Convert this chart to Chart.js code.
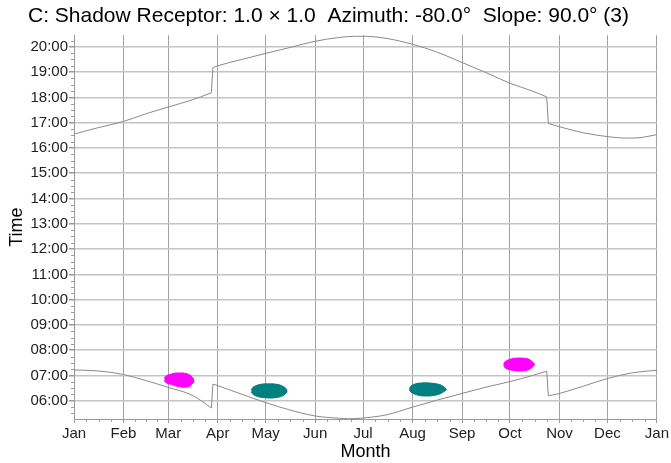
<!DOCTYPE html>
<html>
<head>
<meta charset="utf-8">
<title>Shadow Receptor C</title>
<script src="https://cdn.jsdelivr.net/npm/chart.js@4.4.1/dist/chart.umd.min.js"></script>
<style>
  body { margin: 0; background: #fff; }
  #wrap { width: 671px; height: 463px; }
</style>
</head>
<body>
<div id="wrap"><canvas id="shadowChart" width="671" height="463"></canvas></div>
<script>
// month axis (days from 1 Jan)
const monthLabels = ['Jan', 'Feb', 'Mar', 'Apr', 'May', 'Jun', 'Jul', 'Aug', 'Sep', 'Oct', 'Nov', 'Dec', 'Jan'];
const monthStarts = [0, 31, 59, 90, 120, 151, 181, 212, 243, 273, 304, 334, 365];
const hourTicks = [6, 7, 8, 9, 10, 11, 12, 13, 14, 15, 16, 17, 18, 19, 20];

// sunset (upper curve), hours
const sunsetDays  = [0, 15, 31, 45, 59, 74, 86, 87, 90, 105, 120, 135, 151, 166, 177, 181, 196, 212, 227, 243, 258, 273, 287, 296, 297, 304, 319, 334, 346, 355, 365];
const sunsetTimes = [16.55, 16.8, 17.05, 17.35, 17.62, 17.9, 18.18, 19.18, 19.25, 19.5, 19.74, 19.97, 20.22, 20.37, 20.42, 20.42, 20.33, 20.1, 19.8, 19.38, 18.98, 18.56, 18.25, 18.02, 16.97, 16.84, 16.6, 16.45, 16.39, 16.41, 16.53];

// sunrise (lower curve), hours
const sunriseDays  = [0, 10, 20, 31, 45, 59, 74, 86, 87, 90, 105, 120, 135, 151, 166, 172, 181, 196, 212, 227, 243, 258, 273, 287, 296, 297, 304, 319, 334, 349, 365];
const sunriseTimes = [7.22, 7.2, 7.15, 7.04, 6.8, 6.53, 6.22, 5.72, 6.66, 6.6, 6.26, 5.93, 5.64, 5.4, 5.31, 5.29, 5.32, 5.45, 5.75, 6.02, 6.29, 6.54, 6.76, 7.0, 7.17, 6.2, 6.29, 6.58, 6.88, 7.1, 7.21];

// shadow periods (start / end of shadow per day)
const shadowMarDays  = [56.5, 58, 60, 62, 64, 66, 68, 70, 72, 74, 75.3];
const shadowMarEnd   = [6.9, 7.0, 7.04, 7.08, 7.1, 7.1, 7.1, 7.08, 7.04, 6.94, 6.82];
const shadowMarStart = [6.78, 6.7, 6.66, 6.62, 6.58, 6.56, 6.54, 6.54, 6.56, 6.66, 6.78];

const shadowMayDays  = [111, 112, 114, 116, 118, 120, 122, 124, 126, 128, 130, 132, 133.6];
const shadowMayEnd   = [6.42, 6.53, 6.6, 6.64, 6.66, 6.67, 6.67, 6.67, 6.66, 6.64, 6.6, 6.53, 6.42];
const shadowMayStart = [6.36, 6.26, 6.19, 6.15, 6.13, 6.12, 6.11, 6.11, 6.12, 6.14, 6.18, 6.25, 6.36];

const shadowAugDays  = [210, 211, 213, 215, 217, 219, 221, 223, 225, 227, 229, 231, 233.3];
const shadowAugEnd   = [6.46, 6.58, 6.65, 6.69, 6.7, 6.71, 6.71, 6.7, 6.69, 6.67, 6.64, 6.58, 6.46];
const shadowAugStart = [6.44, 6.34, 6.27, 6.23, 6.2, 6.19, 6.19, 6.19, 6.21, 6.23, 6.27, 6.34, 6.44];

const shadowOctDays  = [269, 270, 272, 274, 276, 278, 280, 282, 284, 286, 288.5];
const shadowOctEnd   = [7.45, 7.55, 7.62, 7.66, 7.68, 7.69, 7.69, 7.68, 7.66, 7.6, 7.45];
const shadowOctStart = [7.4, 7.3, 7.24, 7.21, 7.19, 7.18, 7.18, 7.19, 7.22, 7.28, 7.42];

const FONT = '"Liberation Sans", Arial, sans-serif';

function pts(days, vals) {
  return days.map((d, i) => ({ x: d, y: vals[i] }));
}

function curve(days, vals) {
  return {
    data: pts(days, vals),
    borderColor: '#8a8a8a',
    borderWidth: 1,
    pointRadius: 0,
    cubicInterpolationMode: 'monotone',
    fill: false
  };
}

// split at the daylight-saving jumps so the smoothing doesn't bend around them
function curveSegments(days, vals) {
  const out = [];
  let start = 0;
  for (let i = 1; i < days.length; i++) {
    if (Math.abs(vals[i] - vals[i - 1]) > 0.5) {
      out.push(curve(days.slice(start, i), vals.slice(start, i)));
      out.push(curve(days.slice(i - 1, i + 1), vals.slice(i - 1, i + 1)));
      start = i;
    }
  }
  out.push(curve(days.slice(start), vals.slice(start)));
  return out;
}

function blob(days, endVals, startVals, color) {
  return [
    { data: pts(days, endVals), borderColor: color, borderWidth: 1, pointRadius: 0, tension: 0.4, fill: false },
    { data: pts(days, startVals), borderColor: color, backgroundColor: color, borderWidth: 1, pointRadius: 0, tension: 0.4, fill: '-1' }
  ];
}

// small tick marks between the labelled ones
const minorTicks = {
  id: 'minorTicks',
  afterDraw(chart) {
    const { ctx, chartArea, scales } = chart;
    const x = scales.x, y = scales.y;
    ctx.save();
    ctx.strokeStyle = '#9a9a9a';
    ctx.lineWidth = 1;
    ctx.beginPath();
    for (let h = 5.25; h <= 20.5; h += 0.25) {
      if (h % 1 === 0 || h < y.min || h > y.max) continue;
      const py = Math.round(y.getPixelForValue(h)) + 0.5;
      ctx.moveTo(chartArea.left - 3, py);
      ctx.lineTo(chartArea.left, py);
    }
    for (let m = 0; m < 12; m++) {
      for (let q = 1; q < 4; q++) {
        const d = monthStarts[m] + (monthStarts[m + 1] - monthStarts[m]) * q / 4;
        const px = Math.round(x.getPixelForValue(d)) + 0.5;
        ctx.moveTo(px, chartArea.bottom);
        ctx.lineTo(px, chartArea.bottom + 3);
      }
    }
    ctx.stroke();
    ctx.restore();
  }
};

const ctx = document.getElementById('shadowChart').getContext('2d');
const shadowChart = new Chart(ctx, {
  type: 'line',
  data: {
    datasets: [
      ...curveSegments(sunsetDays, sunsetTimes),
      ...curveSegments(sunriseDays, sunriseTimes),
      ...blob(shadowMarDays, shadowMarEnd, shadowMarStart, '#ff00ff'),
      ...blob(shadowMayDays, shadowMayEnd, shadowMayStart, '#008080'),
      ...blob(shadowAugDays, shadowAugEnd, shadowAugStart, '#008080'),
      ...blob(shadowOctDays, shadowOctEnd, shadowOctStart, '#ff00ff')
    ]
  },
  options: {
    responsive: false,
    animation: false,
    layout: { padding: { left: 0, right: 14, top: 0, bottom: 0 } },
    plugins: {
      legend: { display: false },
      tooltip: { enabled: false },
      title: {
        display: true,
        text: 'C: Shadow Receptor: 1.0 × 1.0  Azimuth: -80.0°  Slope: 90.0° (3)',
        color: '#000',
        font: { family: FONT, size: 21, weight: 'normal' },
        padding: { top: 4, bottom: 6 }
      }
    },
    scales: {
      x: {
        type: 'linear',
        min: 0,
        max: 365,
        afterBuildTicks: s => { s.ticks = monthStarts.map(v => ({ value: v })); },
        afterFit: s => { s.height = 44; },
        ticks: {
          color: '#222',
          font: { family: FONT, size: 15 },
          padding: 2,
          maxRotation: 0,
          autoSkip: false,
          callback: (v, i) => monthLabels[i]
        },
        grid: { color: '#a0a0a0', lineWidth: 1, tickLength: 4, tickColor: '#9a9a9a' },
        border: { color: '#9a9a9a' },
        title: { display: true, text: 'Month', color: '#000', font: { family: FONT, size: 18 }, padding: 0 }
      },
      y: {
        type: 'linear',
        min: 5.28,
        max: 20.46,
        afterBuildTicks: s => { s.ticks = hourTicks.map(v => ({ value: v })); },
        afterFit: s => { s.width = 74; },
        ticks: {
          color: '#222',
          font: { family: FONT, size: 15 },
          padding: 1,
          autoSkip: false,
          callback: v => String(v).padStart(2, '0') + ':00'
        },
        grid: { color: '#c4c4c4', lineWidth: 1.5, tickLength: 5, tickColor: '#9a9a9a' },
        border: { color: '#9a9a9a' },
        title: { display: true, text: 'Time', color: '#000', font: { family: FONT, size: 18 }, padding: { top: 6, bottom: 0 } }
      }
    }
  },
  plugins: [minorTicks]
});
</script>
</body>
</html>
